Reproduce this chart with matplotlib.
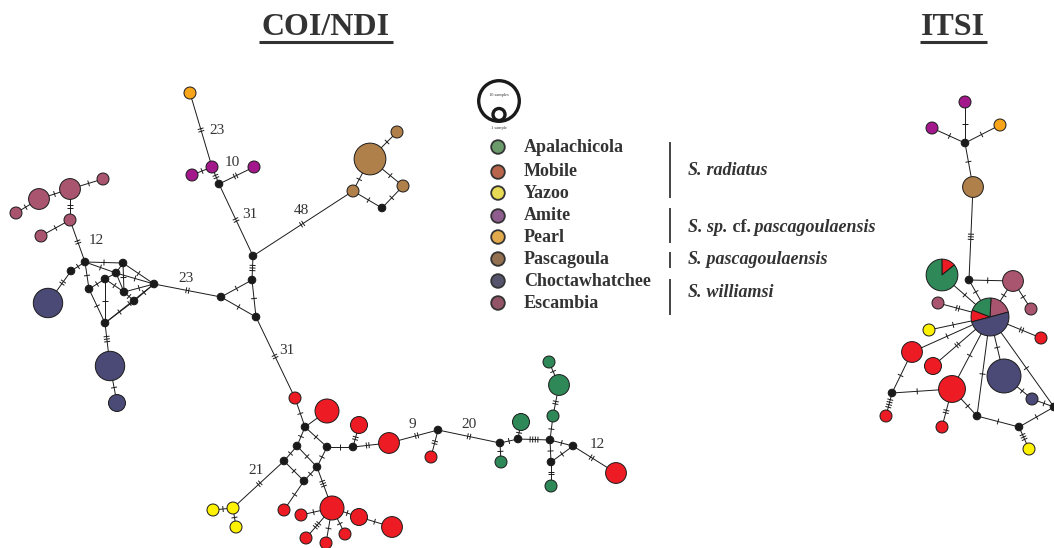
import numpy as np
import matplotlib.pyplot as plt
from matplotlib.patches import Circle, Wedge
from matplotlib.collections import LineCollection

# populations (drainages) and species groups
pops = ['Apalachicola', 'Mobile', 'Yazoo', 'Amite', 'Pearl',
        'Pascagoula', 'Choctawhatchee', 'Escambia']
node_colors = ['#2E8857', '#ED1C24', '#FFF200', '#A3198C', '#F9A51A',
               '#B0804A', '#4B4A76', '#A9556F']
legend_colors = ['#6B9A6B', '#B8654C', '#E8DA55', '#8F5E8F', '#E0A94C',
                 '#93704F', '#55546C', '#935468']
species = [('S.', ' radiatus', ''), ('S. sp.', ' pascagoulaensis', ' cf.'),
           ('S.', ' pascagoulaensis', ''), ('S.', ' williamsi', '')]
species_rows = [(0, 2), (3, 4), (5, 5), (6, 7)]

# COI/NDI haplotypes: name -> (x, y, population, samples); None = missing haplotype
coi_nodes = {
    'e1': (70, 189, 'Escambia', 3), 'e2': (39, 199, 'Escambia', 3),
    'e3': (16, 213, 'Escambia', 1), 'e4': (103, 179, 'Escambia', 1),
    'e5': (70, 220, 'Escambia', 1), 'e6': (41, 236, 'Escambia', 1),
    'j1': (85, 262, None, 0), 'j2': (123, 263, None, 0), 'j3': (116, 273, None, 0),
    'j4': (71, 271, None, 0), 'j5': (154, 284, None, 0), 'j6': (89, 289, None, 0),
    'j7': (105, 279, None, 0), 'j8': (124, 292, None, 0), 'j9': (134, 301, None, 0),
    'j10': (105, 323, None, 0),
    'c1': (48, 303, 'Choctawhatchee', 6), 'c2': (110, 366, 'Choctawhatchee', 6),
    'c3': (117, 403, 'Choctawhatchee', 2),
    'k1': (221, 297, None, 0), 'k2': (252, 280, None, 0), 'k3': (256, 317, None, 0),
    'k4': (253, 256, None, 0), 'k5': (219, 184, None, 0),
    'a1': (212, 167, 'Amite', 1), 'a2': (192, 175, 'Amite', 1), 'a3': (254, 167, 'Amite', 1),
    'pl1': (190, 93, 'Pearl', 1),
    'p1': (353, 191, 'Pascagoula', 1), 'p2': (370, 159, 'Pascagoula', 7),
    'p3': (397, 132, 'Pascagoula', 1), 'p4': (403, 186, 'Pascagoula', 1),
    'pj': (382, 208, None, 0),
    'r1': (295, 398, 'Mobile', 1), 'r2': (327, 411, 'Mobile', 4),
    'r3': (359, 425, 'Mobile', 2), 'r4': (389, 443, 'Mobile', 3),
    'r5': (284, 510, 'Mobile', 1), 'r6': (332, 508, 'Mobile', 4),
    'r7': (301, 515, 'Mobile', 1), 'r9': (306, 538, 'Mobile', 1),
    'r10': (326, 543, 'Mobile', 1), 'r11': (345, 534, 'Mobile', 1),
    'r12': (359, 517, 'Mobile', 2), 'r13': (392, 527, 'Mobile', 3),
    'r14': (431, 457, 'Mobile', 1), 'r15': (616, 473, 'Mobile', 3),
    'rj1': (305, 427, None, 0), 'rj2': (297, 446, None, 0), 'rj3': (327, 447, None, 0),
    'rj4': (284, 461, None, 0), 'rj5': (317, 467, None, 0), 'rj6': (304, 481, None, 0),
    'rj7': (353, 447, None, 0),
    'y1': (233, 508, 'Yazoo', 1), 'y2': (213, 510, 'Yazoo', 1), 'y3': (236, 527, 'Yazoo', 1),
    'gj1': (438, 430, None, 0), 'gj2': (500, 443, None, 0), 'gj3': (518, 439, None, 0),
    'gj4': (550, 440, None, 0), 'gj5': (573, 446, None, 0), 'gj6': (551, 462, None, 0),
    'g1': (501, 462, 'Apalachicola', 1), 'g2': (521, 422, 'Apalachicola', 2),
    'g3': (553, 416, 'Apalachicola', 1), 'g4': (559, 385, 'Apalachicola', 3),
    'g5': (549, 362, 'Apalachicola', 1), 'g6': (551, 486, 'Apalachicola', 1),
}
# (from, to, mutation ticks)
coi_edges = [
    ('e3', 'e2', 1), ('e2', 'e1', 1), ('e1', 'e4', 1), ('e1', 'e5', 2), ('e5', 'e6', 1),
    ('e5', 'j1', 2), ('j1', 'j4', 1), ('j4', 'c1', 2),
    ('j1', 'j2', 1), ('j1', 'j3', 1), ('j1', 'j6', 1), ('j2', 'j3', 0), ('j2', 'j5', 1),
    ('j2', 'j8', 1), ('j3', 'j5', 1), ('j3', 'j7', 0), ('j6', 'j7', 1), ('j7', 'j8', 1),
    ('j6', 'j10', 1), ('j7', 'j10', 1), ('j8', 'j9', 1), ('j8', 'j5', 1), ('j9', 'j5', 1),
    ('j9', 'j10', 1), ('j10', 'j5', 1), ('j3', 'j8', 0),
    ('j10', 'c2', 3), ('c2', 'c3', 1),
    ('j5', 'k1', 2), ('k1', 'k2', 1), ('k1', 'k3', 1), ('k2', 'k3', 1), ('k2', 'k4', 3),
    ('k4', 'k5', 2), ('k5', 'a1', 2), ('a1', 'a2', 1), ('k5', 'a3', 2), ('a1', 'pl1', 2),
    ('k4', 'p1', 2), ('p1', 'p2', 1), ('p2', 'p3', 1), ('p2', 'p4', 1), ('p1', 'pj', 1),
    ('pj', 'p4', 1),
    ('k3', 'r1', 2), ('r1', 'rj1', 1), ('rj1', 'r2', 0), ('rj1', 'rj2', 1), ('rj1', 'rj3', 1),
    ('rj2', 'rj4', 1), ('rj2', 'rj5', 1), ('rj3', 'rj5', 1), ('rj4', 'rj6', 1),
    ('rj5', 'rj6', 1), ('rj3', 'rj7', 1), ('rj7', 'r3', 2), ('rj7', 'r4', 2),
    ('rj4', 'y1', 2), ('y1', 'y2', 1), ('y1', 'y3', 1), ('rj6', 'r5', 1), ('rj5', 'r6', 3),
    ('r6', 'r7', 1), ('r6', 'r9', 3), ('r6', 'r10', 1), ('r6', 'r11', 1), ('r6', 'r12', 1),
    ('r12', 'r13', 1),
    ('r4', 'gj1', 2), ('gj1', 'r14', 2), ('gj1', 'gj2', 2), ('gj2', 'g1', 1),
    ('gj2', 'gj3', 1), ('gj3', 'g2', 1), ('gj3', 'gj4', 4), ('gj4', 'g3', 1),
    ('g3', 'g4', 2), ('g4', 'g5', 1), ('gj4', 'gj5', 1), ('gj4', 'gj6', 1),
    ('gj6', 'gj5', 1), ('gj6', 'g6', 2), ('gj5', 'r15', 2),
]
# long branches: number of mutational steps
coi_steps = [('12', 96, 240), ('23', 186, 278), ('23', 217, 130), ('10', 232, 163),
             ('31', 250, 215), ('48', 301, 211), ('31', 287, 351), ('21', 256, 471),
             ('9', 412, 424), ('20', 469, 424), ('12', 597, 445)]

# ITSI haplotypes
its_nodes = {
    'a1': (965, 102, 'Amite', 1), 'a2': (932, 128, 'Amite', 1), 'pl': (1000, 125, 'Pearl', 1),
    'h1': (965, 143, None, 0), 'p': (973, 187, 'Pascagoula', 3), 'h2': (969, 280, None, 0),
    'e1': (1013, 281, 'Escambia', 3), 'e2': (1031, 309, 'Escambia', 1),
    'e3': (938, 303, 'Escambia', 1), 'y1': (929, 330, 'Yazoo', 1),
    'm1': (1041, 338, 'Mobile', 1), 'm2': (912, 352, 'Mobile', 3),
    'm3': (933, 366, 'Mobile', 2), 'c1': (1004, 376, 'Choctawhatchee', 8),
    'm4': (952, 389, 'Mobile', 5), 'c2': (1032, 399, 'Choctawhatchee', 1),
    'h3': (892, 393, None, 0), 'm5': (886, 416, 'Mobile', 1), 'h4': (977, 416, None, 0),
    'm6': (942, 427, 'Mobile', 1), 'h5': (1019, 427, None, 0),
    'y2': (1029, 449, 'Yazoo', 1), 'h6': (1054, 407, None, 0),
}
# shared haplotypes: (x, y, samples per population, start angle)
its_pies = {
    'g': (942, 275, {'Mobile': 1, 'Apalachicola': 6}, 39),
    'hub': (990, 317, {'Escambia': 2, 'Apalachicola': 2, 'Mobile': 1, 'Choctawhatchee': 5}, 15),
}
its_edges = [
    ('a1', 'h1', 1), ('a2', 'h1', 1), ('pl', 'h1', 1), ('h1', 'p', 1), ('p', 'h2', 3),
    ('h2', 'e1', 1), ('h2', 'hub', 1), ('g', 'hub', 1), ('e1', 'hub', 1), ('e1', 'e2', 1),
    ('e3', 'hub', 2), ('y1', 'hub', 1), ('m1', 'hub', 2), ('m2', 'hub', 1), ('m3', 'hub', 2),
    ('m4', 'hub', 1), ('c1', 'hub', 1), ('h4', 'hub', 1), ('h6', 'hub', 1), ('m2', 'h3', 1),
    ('h3', 'm5', 4), ('h3', 'm4', 1), ('m4', 'm6', 2), ('m4', 'h4', 1), ('h4', 'h5', 1),
    ('h5', 'y2', 3), ('h5', 'h6', 1), ('c1', 'c2', 1), ('c2', 'h6', 1),
]

col = dict(zip(pops, node_colors))
SERIF = 'Liberation Serif'
INK = '#1a1a1a'
TXT = '#333333'


def radius(n):
    return 6 * np.sqrt(n) if n else 3.8


fig = plt.figure(figsize=(10.54, 5.48), dpi=100)
ax = fig.add_axes([0, 0, 1, 1])
ax.set_xlim(0, 1054)
ax.set_ylim(548, 0)
ax.axis('off')


def draw_network(nodes, edges, pies=None):
    pies = pies or {}
    pos = {}
    for k, (x, y, p, n) in nodes.items():
        pos[k] = (np.array([x, y], float), radius(n))
    for k, (x, y, parts, a0) in pies.items():
        pos[k] = (np.array([x, y], float), radius(sum(parts.values())))
    ticks = []
    for a, b, nt in edges:
        (p, rp), (q, rq) = pos[a], pos[b]
        ax.plot([p[0], q[0]], [p[1], q[1]], color=INK, lw=0.7, zorder=1)
        if nt:
            u = (q - p) / np.hypot(*(q - p))
            nrm = np.array([-u[1], u[0]])
            m = ((p + u * rp) + (q - u * rq)) / 2
            for o in (np.arange(nt) - (nt - 1) / 2) * 2.6:
                c = m + u * o
                ticks.append([c - nrm * 3, c + nrm * 3])
    ax.add_collection(LineCollection(ticks, colors=INK, linewidths=0.7, zorder=1))
    for k, (x, y, p, n) in nodes.items():
        fc = col[p] if p else INK
        ax.add_patch(Circle((x, y), radius(n), fc=fc, ec=INK, lw=0.7, zorder=3))
    for k, (x, y, parts, a0) in pies.items():
        r = radius(sum(parts.values()))
        tot = sum(parts.values())
        a = a0
        for p, n in parts.items():
            span = 360 * n / tot
            # y axis is flipped: screen angle a -> data angle -a
            ax.add_patch(Wedge((x, y), r, -(a + span), -a, fc=col[p], ec=INK, lw=0.7, zorder=3))
            a += span


draw_network(coi_nodes, coi_edges)
draw_network(its_nodes, its_edges, its_pies)

for s, x, y in coi_steps:
    ax.text(x, y, s, family=SERIF, fontsize=11, color=TXT, ha='center', va='center')

# titles
for s, x, x0, x1 in [('COI/NDI', 326, 259, 393), ('ITSI', 953, 920, 987)]:
    ax.text(x, 35, s, family=SERIF, weight='bold', fontsize=23, color=TXT,
            ha='center', va='baseline')
    ax.plot([x0, x1], [41.5, 41.5], color=TXT, lw=2.2, solid_capstyle='butt')

# sample size key
ax.add_patch(Circle((499, 101), 20.3, fc='none', ec=INK, lw=2.4))
ax.add_patch(Circle((499, 114.5), 6, fc='none', ec=INK, lw=2.4))
ax.text(499, 95, '10 samples', family=SERIF, fontsize=3.2, color=TXT, ha='center', va='center')
ax.text(499, 127.5, '1 sample', family=SERIF, fontsize=3.2, color=TXT, ha='center', va='center')

# population legend
leg_y = [147, 172, 193, 216, 237, 259, 281, 303]
for name, c, y in zip(pops, legend_colors, leg_y):
    ax.add_patch(Circle((498, y), 6.8, fc=c, ec='#333333', lw=1.3))
    ax.text(524, y, name, family=SERIF, weight='bold', fontsize=13, color=TXT,
            ha='left', va='center')

bars = [(142, 198), (208, 243), (252, 268), (279, 315)]
for (y0, y1), (i0, i1), (g, sp, cf) in zip(bars, species_rows, species):
    ax.plot([670, 670], [y0, y1], color='#444444', lw=1.4, solid_capstyle='butt')
    yc = (leg_y[i0] + leg_y[i1]) / 2
    kw = dict(family=SERIF, weight='bold', fontsize=13, color=TXT, va='baseline')
    t = ax.text(688, yc + 5, g, style='italic', ha='left', **kw)
    if cf:
        t = ax.annotate(cf, xy=(1, 0), xycoords=t, ha='left', va='bottom',
                        family=SERIF, weight='bold', fontsize=13, color=TXT)
    ax.annotate(sp, xy=(1, 0), xycoords=t, ha='left', va='bottom', style='italic',
                family=SERIF, weight='bold', fontsize=13, color=TXT)

fig.savefig('out.png', dpi=100)
